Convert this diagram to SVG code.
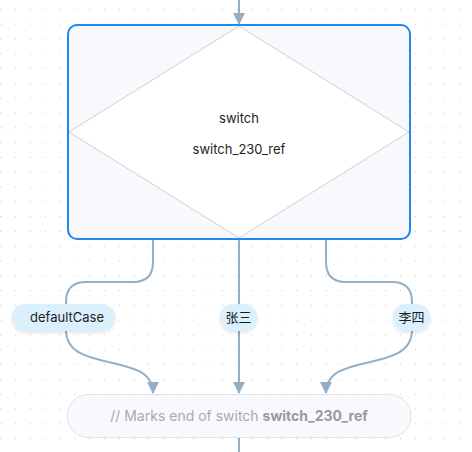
<svg xmlns="http://www.w3.org/2000/svg" width="472" height="452" viewBox="0 0 472 452">
<defs>
<pattern id="dots" x="0.3" y="8.9" width="14.8" height="14.8" patternUnits="userSpaceOnUse">
<rect x="0" y="0" width="1" height="1" fill="#c4c4c4"/>
</pattern>
<marker id="arr" viewBox="0 0 12 12" refX="11" refY="6" markerWidth="12" markerHeight="12" markerUnits="userSpaceOnUse" orient="auto">
<path d="M0,0 L12,6 L0,12 Z" fill="#93afc6"/>
</marker>
<filter id="sh" x="-20%" y="-30%" width="140%" height="170%">
<feDropShadow dx="0" dy="1.5" stdDeviation="1.5" flood-color="#000" flood-opacity="0.12"/>
</filter>
</defs>
<style>
.edge{fill:none;stroke:#93afc6;stroke-width:2}
.lbl{fill:#daf1fd;filter:url(#sh)}
.t{font-family:Inter,"Noto Sans CJK SC",sans-serif;font-size:13px;fill:#1e1e1e;text-anchor:middle}
</style>
<rect width="472" height="452" fill="#fff"/>
<rect width="472" height="452" fill="url(#dots)"/>

<g id="connectors">
<path class="edge" d="M239,0 V24" marker-end="url(#arr)"/>
<path class="edge" d="M153,240 V262 Q153,282 133,282 H86 Q66,282 66,302 V330 C66,375 153,350 153,393" marker-end="url(#arr)"/>
<path class="edge" d="M239,240 V393" marker-end="url(#arr)"/>
<path class="edge" d="M326,240 V262 Q326,282 346,282 H392 Q412,282 412,302 V330 C412,375 326,350 326,393" marker-end="url(#arr)"/>
<path class="edge" d="M239,438 V452"/>
</g>

<g id="switch">
<rect x="68" y="25" width="342" height="214" rx="9" fill="#f8f9fd" stroke="#1e88f0" stroke-width="2"/>
<polygon points="239,26 409,132 239,238 69,132" fill="#fff" stroke="#cfcfcf" stroke-width="1"/>
<text class="t" x="239" y="123">switch</text>
<text class="t" x="239" y="154">switch_230_ref</text>
</g>

<g id="label-default">
<rect class="lbl" x="12" y="304" width="103" height="27" rx="13"/>
<text class="t" x="67" y="322" font-size="12.5">defaultCase</text>
</g>
<g id="label-zhangsan">
<rect class="lbl" x="220" y="304" width="37" height="27" rx="13"/>
<text class="t" x="238.5" y="322">张三</text>
</g>
<g id="label-lisi">
<rect class="lbl" x="393" y="304" width="37" height="27" rx="13"/>
<text class="t" x="411.5" y="322">李四</text>
</g>

<g id="end">
<rect x="67" y="394.5" width="344" height="43" rx="21.5" fill="#f8f9fd" stroke="#e2e3e8" stroke-width="1"/>
<text x="239" y="421" text-anchor="middle" font-family="Inter, sans-serif" font-size="14" fill="#a9a9ab">// Marks end of switch <tspan font-weight="bold" fill="#9a9a9c">switch_230_ref</tspan></text>
</g>
</svg>
